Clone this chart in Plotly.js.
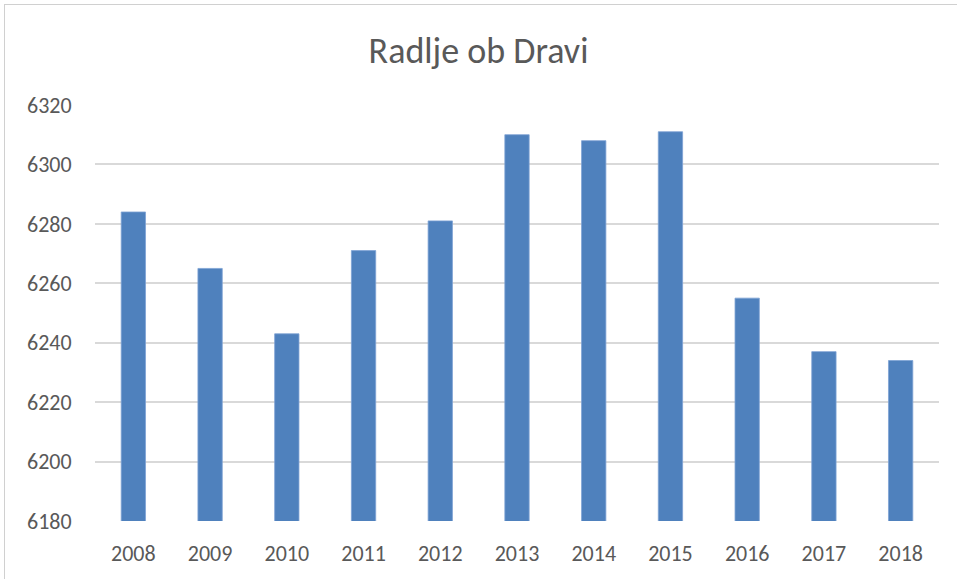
<!DOCTYPE html>
<html>
<head>
<meta charset="utf-8">
<script src="https://cdn.plot.ly/plotly-3.0.1.min.js"></script>
<style>
  html, body { margin: 0; padding: 0; background: #ffffff; }
  #wrap { position: absolute; left: 0; top: 0; width: 957px; height: 579px; overflow: hidden; }
  #frame { position: absolute; left: 4px; top: 4px; width: 980px; height: 600px; border-left: 1px solid #d0d0d0; border-top: 1px solid #d0d0d0; box-sizing: border-box; }
  #chart { position: absolute; left: 0; top: 0; width: 957px; height: 579px; }
</style>
</head>
<body>
<div id="wrap">
  <div id="frame"></div>
  <div id="chart"></div>
</div>
<script>
const years = ['2008', '2009', '2010', '2011', '2012', '2013', '2014', '2015', '2016', '2017', '2018'];
const population = [6284, 6265, 6243, 6271, 6281, 6310, 6308, 6311, 6255, 6237, 6234];
const yTicks = [6180, 6200, 6220, 6240, 6260, 6280, 6300, 6320];
const chartTitle = 'Radlje ob Dravi';

const font = "Carlito, Calibri, 'Liberation Sans Narrow', 'Open Sans', sans-serif";

const trace = {
  type: 'bar',
  x: years,
  y: population,
  marker: { color: '#4f81bd', line: { color: '#7ea2d4', width: 0.8 } },
  hoverinfo: 'x+y'
};

const layout = {
  width: 957,
  height: 579,
  paper_bgcolor: 'rgba(0,0,0,0)',
  plot_bgcolor: 'rgba(0,0,0,0)',
  margin: { l: 95, r: 18, t: 105, b: 58 },
  bargap: 0.683,
  showlegend: false,
  title: {
    text: chartTitle,
    x: 0.5,
    xanchor: 'center',
    y: 0.913,
    yanchor: 'middle',
    font: { family: font, size: 36, color: '#595959' }
  },
  xaxis: {
    type: 'category',
    tickfont: { family: font, size: 22, color: '#595959' },
    showgrid: false,
    showline: false,
    zeroline: false,
    ticks: 'outside',
    ticklen: 13,
    tickcolor: 'rgba(0,0,0,0)'
  },
  yaxis: {
    range: [6180, 6320],
    tickvals: yTicks,
    ticktext: yTicks.map(String),
    tickfont: { family: font, size: 22, color: '#595959' },
    showgrid: true,
    gridcolor: '#d9d9d9',
    gridwidth: 2,
    zeroline: false,
    showline: false,
    ticks: 'outside',
    ticklen: 18,
    tickcolor: 'rgba(0,0,0,0)'
  }
};

Plotly.newPlot('chart', [trace], layout, { displayModeBar: false, staticPlot: true });
</script>
</body>
</html>
